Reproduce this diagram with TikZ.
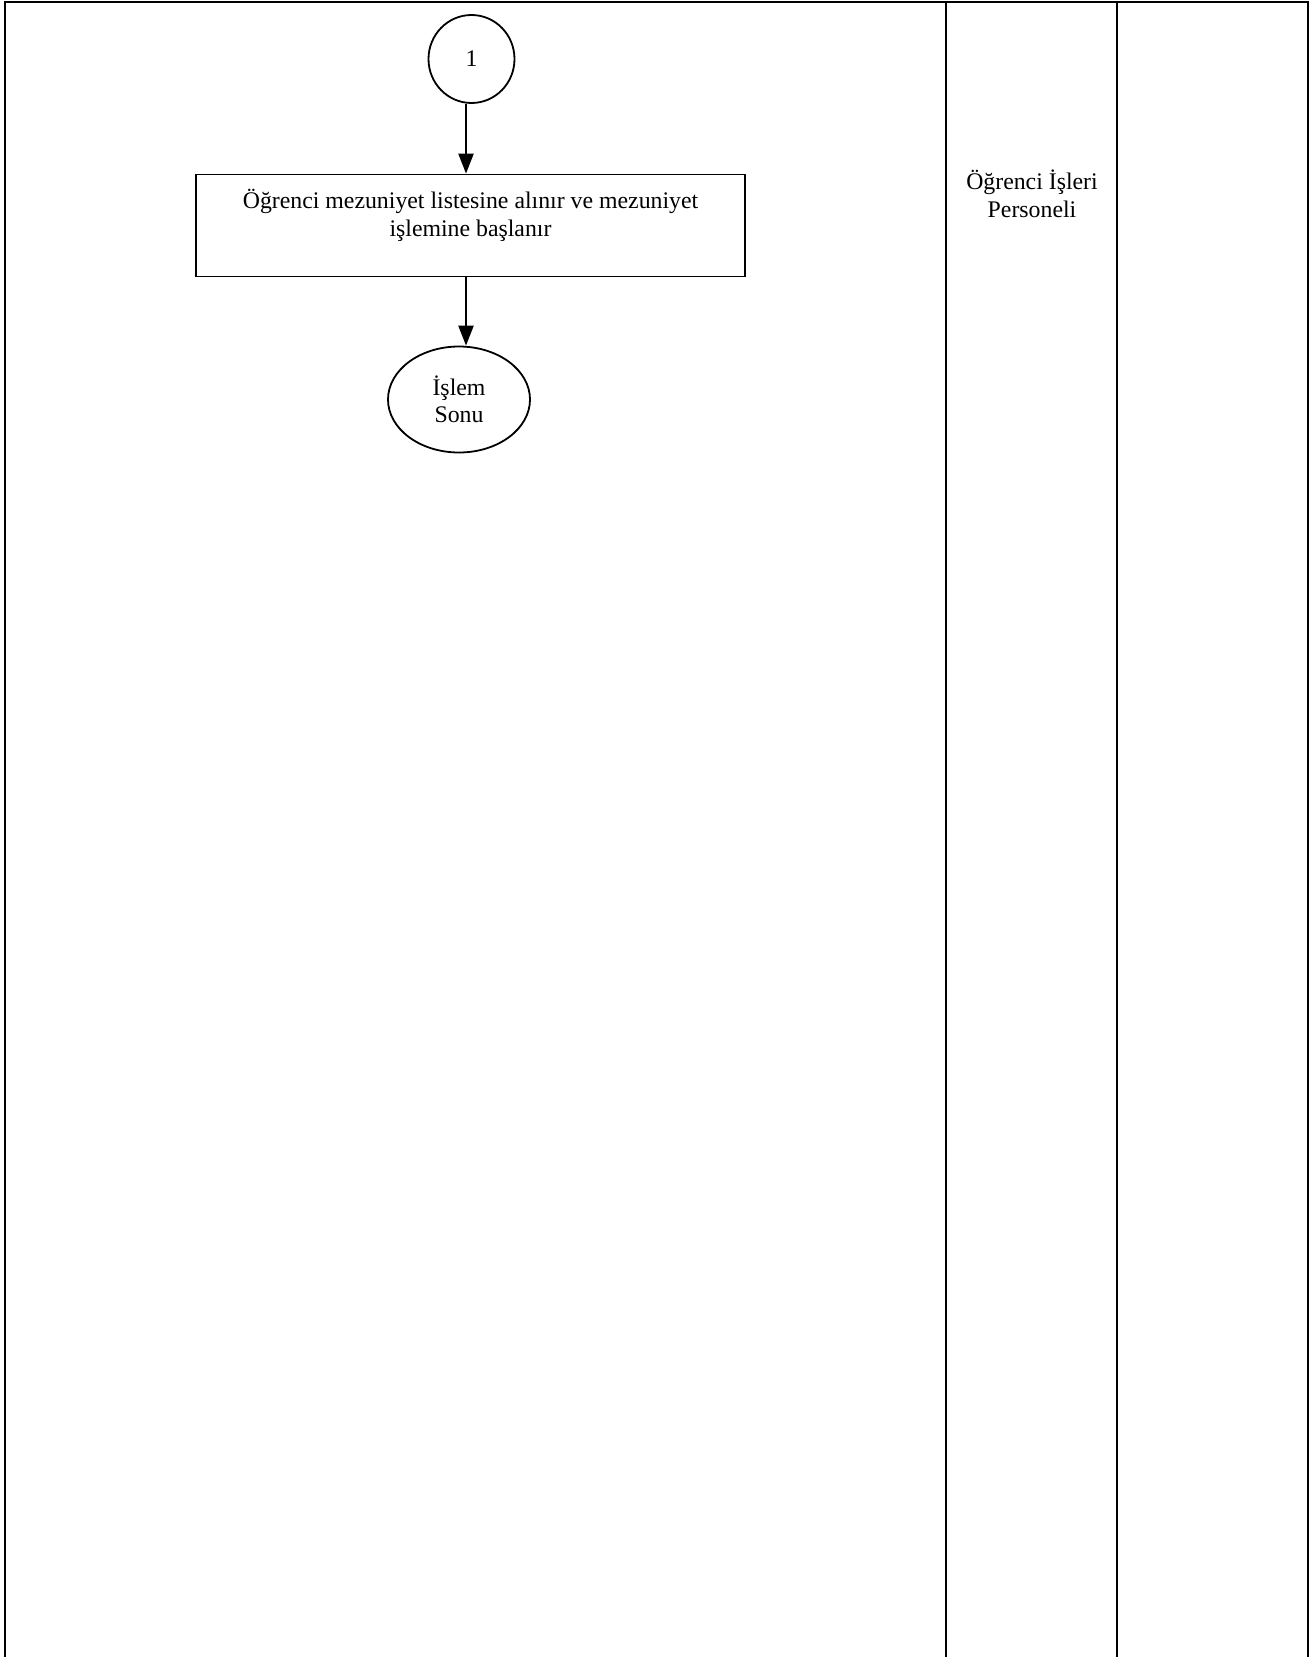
\documentclass[tikz,border=0pt]{standalone}
\usepackage{fontspec}
\setmainfont{Liberation Serif}
\usetikzlibrary{arrows.meta,shapes.geometric}
\begin{document}
\begin{tikzpicture}[x=1pt,y=-1pt,
  frame/.style={line width=2.2pt},
  procbox/.style={draw,line width=1.8pt,minimum width=549pt,minimum height=102pt,inner sep=0pt},
  connector/.style={draw,ellipse,line width=1.8pt,minimum width=86pt,minimum height=88pt,inner sep=0pt},
  terminal/.style={draw,ellipse,line width=1.8pt,minimum width=142pt,minimum height=106pt,inner sep=0pt,align=center},
  flow/.style={line width=2.4pt,-{Triangle[length=20pt,width=15pt]}},
  txt/.style={font=\fontsize{23.8}{27.5}\selectfont}]
\useasboundingbox (0,0) rectangle (1313,1657);
% frame
\draw[frame] (5,1657) -- (5,2) -- (1308,2) -- (1308,1657);
\draw[frame] (946,2) -- (946,1657);
\draw[frame] (1117,2) -- (1117,1657);
% nodes
\node[connector,txt] (c1) at (471.5,59) {1};
\node[procbox] (p1) at (470.5,225.5) {};
\node[txt,align=center,anchor=north] (p1t) at (470.5,186) {Öğrenci mezuniyet listesine alınır ve mezuniyet\\işlemine başlanır};
\node[terminal,txt] (end) at (459,399.5) {İşlem\\Sonu};
\node[txt,align=center] (role) at (1032,194) {Öğrenci İşleri\\Personeli};
\coordinate (ax) at (466,0);
% connectors
\draw[flow] (c1.south -| ax) -- (p1.north -| ax);
\draw[flow] (p1.south -| ax) -- (end.north -| ax);
\end{tikzpicture}
\end{document}
